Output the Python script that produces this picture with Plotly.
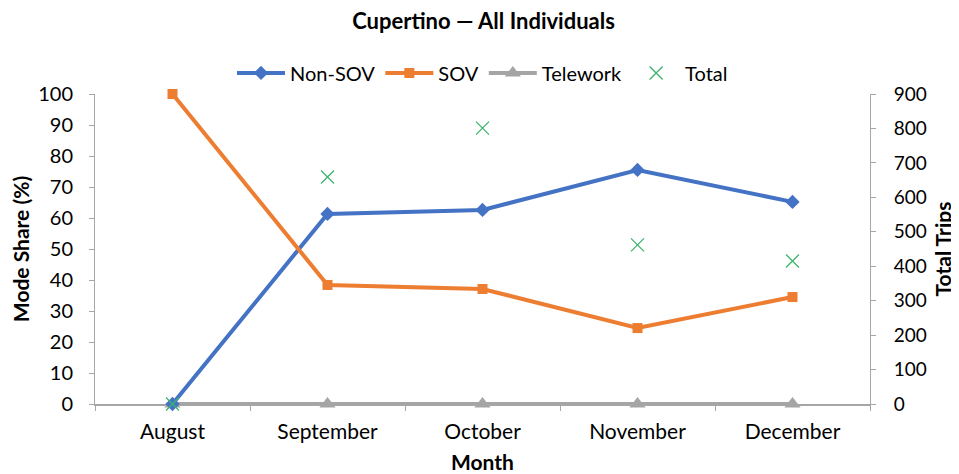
import plotly.graph_objects as go

months = ["August", "September", "October", "November", "December"]
non_sov = [0, 61.3, 62.6, 75.5, 65.2]
sov = [100, 38.4, 37.1, 24.5, 34.5]
telework = [0, 0, 0, 0, 0]
total = [0, 659, 801, 462, 415]

FONT = "Lato, 'Open Sans', sans-serif"
AX = "#a6a6a6"

fig = go.Figure()
fig.add_trace(go.Scatter(x=months, y=telework, name="Telework", mode="lines+markers",
                         line=dict(color="#A5A5A5", width=4), cliponaxis=False,
                         marker=dict(symbol="triangle-up", size=14, color="#A5A5A5")))
fig.add_trace(go.Scatter(x=months, y=non_sov, name="Non-SOV", mode="lines+markers",
                         line=dict(color="#4472C4", width=4), cliponaxis=False,
                         marker=dict(symbol="diamond", size=11, color="#4472C4")))
fig.add_trace(go.Scatter(x=months, y=sov, name="SOV", mode="lines+markers",
                         line=dict(color="#ED7D31", width=4), cliponaxis=False,
                         marker=dict(symbol="square", size=10, color="#ED7D31")))
fig.add_trace(go.Scatter(x=months, y=total, name="Total", mode="markers", yaxis="y2",
                         cliponaxis=False,
                         marker=dict(symbol="x-thin-open", size=13,
                                     line=dict(color="#3cb46e", width=1.3), color="#3cb46e")))

fig.update_layout(
    width=951, height=466,
    paper_bgcolor="white", plot_bgcolor="white",
    margin=dict(l=87, r=89, t=86, b=70, autoexpand=False),
    font=dict(family=FONT, size=18, color="black"),
    title=dict(text="<b>Cupertino — All Individuals</b>", x=0.5, xanchor="center",
               y=0.972, yanchor="middle", font=dict(size=22)),
    legend=dict(orientation="h", x=0.5, xanchor="center", y=1.068, yanchor="middle",
                font=dict(size=20), itemwidth=48, tracegroupgap=0,
                traceorder="normal"),
    showlegend=True,
    xaxis=dict(title=dict(text="<b>Month</b>", font=dict(size=21), standoff=16),
               range=[-0.5, 4.5], automargin=False, layer="below traces",
               showline=True, linecolor=AX, linewidth=1.5, ticks="outside",
               tickson="boundaries", ticklen=5, tickcolor=AX, showgrid=False,
               tickfont=dict(size=21), ticklabelstandoff=8, zeroline=False),
    yaxis=dict(title=dict(text="<b>Mode Share (%)</b>", font=dict(size=21), standoff=8),
               range=[0, 100], dtick=10, automargin=False, layer="below traces",
               showline=True, linecolor=AX, linewidth=1,
               ticks="outside", ticklen=5, tickcolor=AX, showgrid=False,
               zeroline=False, tickfont=dict(size=20), ticklabelstandoff=12),
    yaxis2=dict(title=dict(text="<b>Total Trips</b>", font=dict(size=21), standoff=10),
                overlaying="y", side="right", range=[0, 900], dtick=100,
                automargin=False, layer="below traces",
                showline=True, linecolor=AX, linewidth=1, ticks="outside",
                ticklen=5, tickcolor=AX, showgrid=False, zeroline=False,
                tickfont=dict(size=19), ticklabelstandoff=14),
)

# keep legend order Non-SOV, SOV, Telework, Total
fig.data[0].legendrank = 3
fig.data[1].legendrank = 1
fig.data[2].legendrank = 2
fig.data[3].legendrank = 4

fig.write_html("out.html")
